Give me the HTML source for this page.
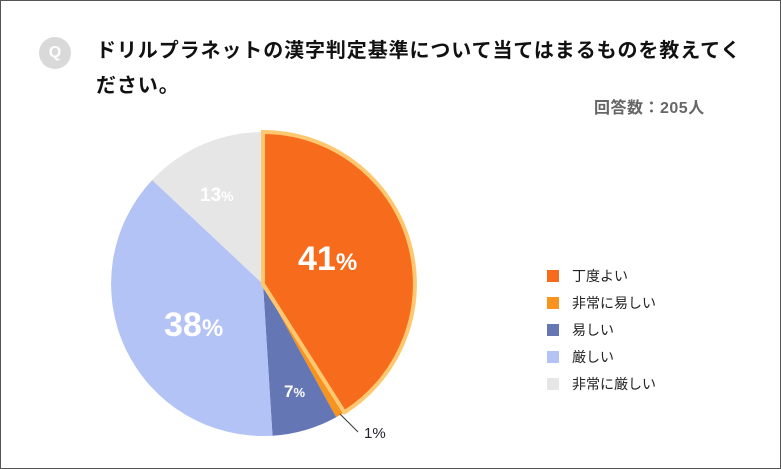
<!DOCTYPE html>
<html><head><meta charset="utf-8"><style>
body{margin:0;width:781px;height:469px;overflow:hidden;background:#fff;font-family:"Liberation Sans","Noto Sans CJK JP",sans-serif}
.frame{position:absolute;left:0;top:0;width:779px;height:467px;border:1px solid #555}
.q{position:absolute;left:39px;top:37px;width:32px;height:32px;border-radius:50%;background:#d9d9d9;color:#fff;font-weight:bold;font-size:16px;text-align:center;line-height:32px}
.t{position:absolute;left:96px;top:34px;font-size:20px;font-weight:bold;color:#111;line-height:35px;letter-spacing:0.9px;white-space:nowrap}
.n{position:absolute;left:594px;top:94px;font-size:16px;font-weight:bold;color:#666;letter-spacing:0.5px}
.lg{position:absolute;left:547px;font-size:14px;color:#222}
.lg i{display:inline-block;width:12px;height:12px;vertical-align:-1px;margin-right:13px}
</style></head><body>
<div class="frame"></div>
<div class="q">Q</div>
<div class="t">ドリルプラネットの漢字判定基準について当てはまるものを教えてく<br>ださい。</div>
<div class="n">回答数：205人</div>
<svg width="781" height="469" style="position:absolute;left:0;top:0">
<path d="M263,284 L344.4,412.3 A152,152 0 0 1 336.2,417.2 Z" fill="#f7931e"/>
<path d="M263,284 L336.2,417.2 A152,152 0 0 1 272.5,435.7 Z" fill="#6576b4"/>
<path d="M263,284 L272.5,435.7 A152,152 0 0 1 152.2,180 Z" fill="#b4c3f5"/>
<path d="M263,284 L152.2,180 A152,152 0 0 1 263,132 Z" fill="#e6e6e6"/>
<path d="M263,284 L263,132 A152,152 0 0 1 344.4,412.3 Z" fill="#f76b1c" stroke="#ffc870" stroke-width="4" stroke-linejoin="miter"/>
<line x1="340" y1="414" x2="358" y2="432" stroke="#333" stroke-width="1"/>
<g font-weight="bold" fill="#fff" font-family="Liberation Sans,sans-serif">
<text x="298" y="270" font-size="34">41<tspan font-size="24">%</tspan></text>
<text x="164" y="336" font-size="34">38<tspan font-size="24">%</tspan></text>
<text x="200" y="201" font-size="19">13<tspan font-size="14">%</tspan></text>
<text x="284" y="397" font-size="17">7<tspan font-size="13">%</tspan></text>
</g>
<text x="364" y="438" font-size="15" fill="#223">1%</text>
</svg>
<div class="lg" style="top:266px"><i style="background:#f76b1c"></i>丁度よい</div>
<div class="lg" style="top:293px"><i style="background:#f7931e"></i>非常に易しい</div>
<div class="lg" style="top:320px"><i style="background:#6576b4"></i>易しい</div>
<div class="lg" style="top:347px"><i style="background:#b4c3f5"></i>厳しい</div>
<div class="lg" style="top:374px"><i style="background:#e6e6e6"></i>非常に厳しい</div>
</body></html>
